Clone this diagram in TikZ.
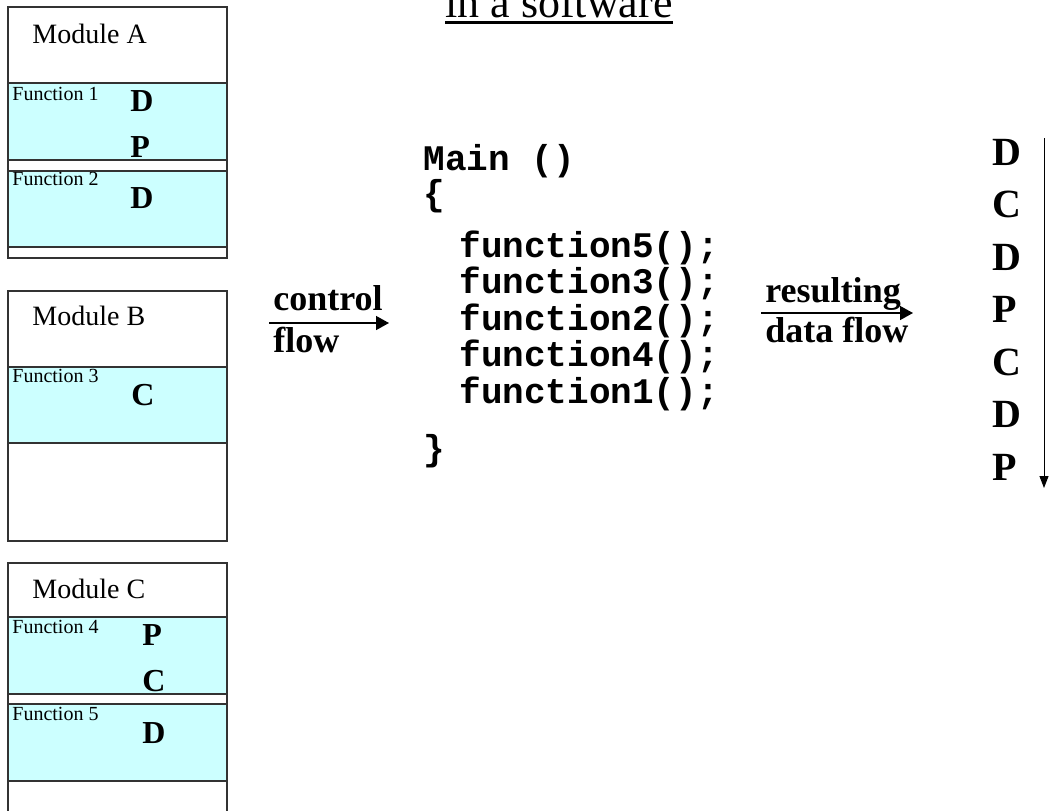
\documentclass[tikz,border=0pt]{standalone}
\usepackage{fontspec}
\setmainfont{Liberation Serif}
\setmonofont{Liberation Mono}
\usepackage{tikz}
\usetikzlibrary{arrows.meta, positioning}
\definecolor{funcyan}{HTML}{CCFFFF}
\definecolor{boxline}{HTML}{333333}
\tikzset{
  modbox/.style={draw=boxline, line width=0.6pt},
  funbox/.style={draw=boxline, line width=0.6pt, fill=funcyan},
  modlabel/.style={anchor=base west, inner sep=0, font=\fontsize{14}{16}\selectfont},
  funlabel/.style={anchor=base west, inner sep=0, font=\fontsize{10}{12}\selectfont},
  tag/.style={anchor=base west, inner sep=0, font=\bfseries\fontsize{16}{18}\selectfont},
  bigtag/.style={anchor=base west, inner sep=0, font=\bfseries\fontsize{20}{22}\selectfont},
  code/.style={anchor=base west, inner sep=0, font=\ttfamily\bfseries\fontsize{18}{20}\selectfont},
  flowlabel/.style={anchor=base west, inner sep=0, font=\bfseries\fontsize{18}{20}\selectfont},
  flow/.style={-{Triangle[length=6.5pt,width=7pt]}, line width=0.7pt},
  flowdown/.style={-{Triangle[length=6pt,width=4.5pt]}, line width=0.5pt}
}

\begin{document}
\begin{tikzpicture}[x=0.5pt,y=-0.5pt]
  \useasboundingbox (0,0) rectangle (1050,810);

  % title
  \node[anchor=base west, inner sep=0, font=\fontsize{22}{26}\selectfont] (title) at (445,17) {in a software};
  \draw[line width=1.2pt] ([yshift=-2.75pt]title.base west) -- ([yshift=-2.75pt]title.base east);

  % module A
  \draw[modbox] (8,7) rectangle (227,258);
  \draw[funbox] (8,83) rectangle (227,160);
  \draw[funbox] (8,171) rectangle (227,247);
  \node[modlabel] (modA) at (32,43) {Module A};
  \node[funlabel] (fun1) at (12,100) {Function 1};
  \node[funlabel] (fun2) at (12,185) {Function 2};
  \node[tag] (f1d) at (130,111) {D};
  \node[tag] (f1p) at (130,157) {P};
  \node[tag] (f2d) at (130,208) {D};

  % module B
  \draw[modbox] (8,291) rectangle (227,541);
  \draw[funbox] (8,367) rectangle (227,443);
  \node[modlabel] (modB) at (32,325) {Module B};
  \node[funlabel] (fun3) at (12,382) {Function 3};
  \node[tag] (f3c) at (131,405) {C};

  % module C
  \draw[modbox] (8,563) rectangle (227,830);
  \draw[funbox] (8,617) rectangle (227,694);
  \draw[funbox] (8,704) rectangle (227,781);
  \node[modlabel] (modC) at (32,598) {Module C};
  \node[funlabel] (fun4) at (12,633) {Function 4};
  \node[funlabel] (fun5) at (12,720) {Function 5};
  \node[tag] (f4p) at (142,645) {P};
  \node[tag] (f4c) at (142,691) {C};
  \node[tag] (f5d) at (142,743) {D};

  % control flow
  \coordinate (cfA) at (269,323);
  \coordinate (cfB) at (389,323);
  \draw[flow] (cfA) -- (cfB);
  \node[flowlabel] (cfTop) at (273,310) {control};
  \node[flowlabel] (cfBot) at (273,352) {flow};

  % main program
  \node[code] (main) at (423,170) {Main ()};
  \node[code] (open) at (423,205) {\{};
  \foreach \f [count=\i] in {5,3,2,4,1}
    \node[code] (call\i) at (459,{257+36.5*(\i-1)}) {function\f();};
  \node[code] (close) at (423,460) {\}};

  % resulting data flow
  \coordinate (dfA) at (761,313);
  \coordinate (dfB) at (913,313);
  \draw[flow] (dfA) -- (dfB);
  \node[flowlabel] (dfTop) at (765,302) {resulting};
  \node[flowlabel] (dfBot) at (765,342) {data flow};

  % sequence
  \foreach \t [count=\i] in {D,C,D,P,C,D,P}
    \node[bigtag] (seq\i) at (992,{165+52.5*(\i-1)}) {\t};
  \coordinate (seqTop) at (1044,138);
  \coordinate (seqEnd) at (1044,488);
  \draw[flowdown] (seqTop) -- (seqEnd);
\end{tikzpicture}
\end{document}
